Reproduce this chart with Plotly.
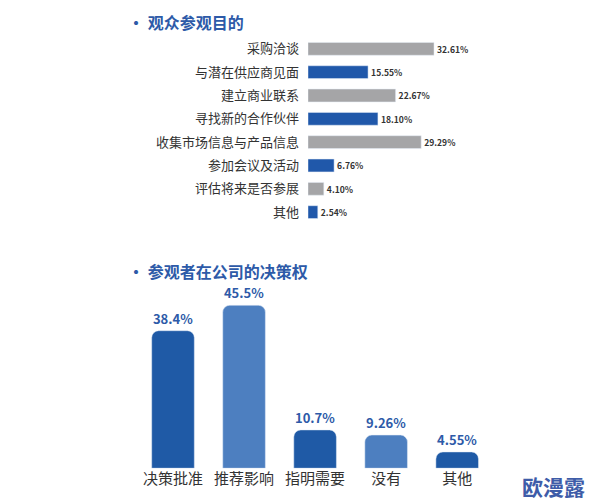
import plotly.graph_objects as go

purpose_cats = ["采购洽谈", "与潜在供应商见面", "建立商业联系", "寻找新的合作伙伴",
                "收集市场信息与产品信息", "参加会议及活动", "评估将来是否参展", "其他"]
purpose_vals = [32.61, 15.55, 22.67, 18.10, 29.29, 6.76, 4.10, 2.54]
purpose_colors = ["#a5a5a7", "#2058aa", "#a5a5a7", "#2058aa", "#a5a5a7", "#2058aa", "#a5a5a7", "#2058aa"]

power_cats = ["决策批准", "推荐影响", "指明需要", "没有", "其他"]
power_vals = [38.4, 45.5, 10.7, 9.26, 4.55]
power_labels = ["38.4%", "45.5%", "10.7%", "9.26%", "4.55%"]
power_colors = ["#1f5aa6", "#4d7fc0", "#1f5aa6", "#4d7fc0", "#1f5aa6"]

font = "Noto Sans CJK SC"
fig = go.Figure()
fig.add_trace(go.Bar(
    x=purpose_vals, y=purpose_cats, orientation="h", marker_color=purpose_colors,
    text=[f"{v:.2f}%" for v in purpose_vals], textposition="outside",
    textfont=dict(size=10, color="#333", family=font, weight="bold"),
    xaxis="x", yaxis="y", cliponaxis=False))
fig.add_trace(go.Bar(
    x=power_cats, y=power_vals, marker_color=power_colors, marker_cornerradius=7,
    text=power_labels, textposition="outside",
    textfont=dict(size=13, color="#2d5aa8", family=font, weight="bold"),
    xaxis="x2", yaxis="y2", cliponaxis=False))

fig.update_layout(
    width=594, height=503, margin=dict(l=0, r=0, t=0, b=0),
    paper_bgcolor="white", plot_bgcolor="white", showlegend=False,
    font=dict(family=font, color="#333"),
    xaxis=dict(domain=[0.505, 0.98], range=[0, 73], visible=False),
    yaxis=dict(domain=[0.571, 0.942], autorange="reversed", anchor="x",
               tickfont=dict(size=13, color="#333"), showgrid=False, ticks="", showline=False,
               ticklabelstandoff=8),
    bargap=0.45,
    xaxis2=dict(domain=[0.218, 0.816], anchor="y2", tickfont=dict(size=15, color="#333"),
                showline=False, ticks=""),
    yaxis2=dict(domain=[0.085, 0.441], range=[0, 50], visible=False, anchor="x2"),
    annotations=[
        dict(text="· 观众参观目的", x=118/594, y=1-14/503, xref="paper", yref="paper",
             xanchor="left", yanchor="middle", showarrow=False,
             font=dict(size=16, color="#2d5aa8", family=font, weight="bold")),
        dict(text="· 参观者在公司的决策权", x=118/594, y=1-263/503, xref="paper", yref="paper",
             xanchor="left", yanchor="middle", showarrow=False,
             font=dict(size=16, color="#2d5aa8", family=font, weight="bold")),
        dict(text="欧漫露", x=512/594, y=1-478/503, xref="paper", yref="paper",
             xanchor="left", yanchor="middle", showarrow=False,
             font=dict(size=21, color="#3e5ca8", family=font, weight="bold")),
    ],
)
fig.update_traces(selector=dict(xaxis="x2"), width=0.6)
fig.write_html("out.html")
